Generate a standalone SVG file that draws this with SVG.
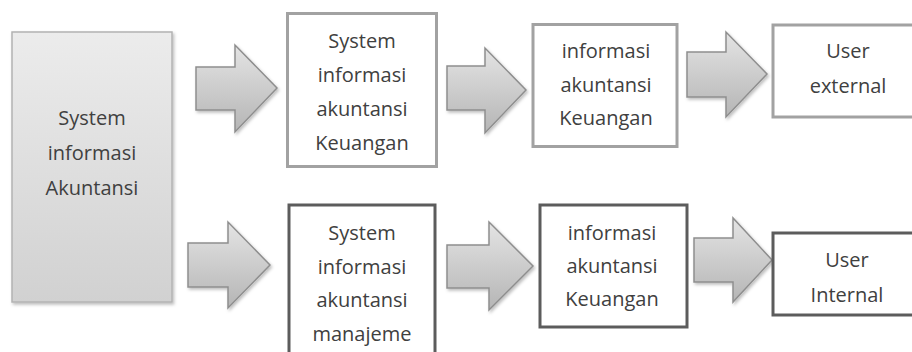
<svg xmlns="http://www.w3.org/2000/svg" width="912" height="352" viewBox="0 0 912 352">
<defs>
<linearGradient id="gBig" x1="0" y1="0" x2="0" y2="1">
<stop offset="0" stop-color="#ececec"/>
<stop offset="1" stop-color="#d1d1d1"/>
</linearGradient>
<linearGradient id="gArr" x1="0" y1="0" x2="0" y2="1">
<stop offset="0" stop-color="#e4e4e4"/>
<stop offset="1" stop-color="#b5b5b5"/>
</linearGradient>
<filter id="sh" x="-10%" y="-10%" width="130%" height="130%">
<feDropShadow dx="1.5" dy="2" stdDeviation="1.5" flood-color="#000" flood-opacity="0.25"/>
</filter>
</defs>
<style>
text{font-family:"Open Sans","Liberation Sans",sans-serif;font-size:20px;fill:#404040;text-anchor:middle}
.light{fill:#fff;stroke:#a2a2a2;stroke-width:3}
.dark{fill:#fff;stroke:#5c5c5c;stroke-width:3}
.big{fill:url(#gBig);stroke:#b3b3b3;stroke-width:1.5;filter:url(#sh)}
.arr{fill:url(#gArr);stroke:#8e8e8e;stroke-width:1.5;stroke-linejoin:miter;filter:url(#sh)}
</style>
<rect width="912" height="352" fill="#fff"/>
<g id="connectors">
<polygon class="arr" points="196,67 235,67 235,45 277,88 235,132 235,110 196,110"/>
<polygon class="arr" points="188,243 228,243 228,222 270,265 228,308 228,287 188,287"/>
<polygon class="arr" points="447,66 485,66 485,48 526,90 485,133 485,110 447,110"/>
<polygon class="arr" points="447,245 489,245 489,222 533,266 489,310 489,288 447,288"/>
<polygon class="arr" points="687,52 726,52 726,32 767,74 726,117 726,97 687,97"/>
<polygon class="arr" points="694,238 733,238 733,218 772,260 733,302 733,282 694,282"/>
</g>
<g id="sia">
<rect class="big" x="12" y="32" width="160" height="270"/>
<text x="92" y="125">System</text>
<text x="92" y="160">informasi</text>
<text x="92" y="195">Akuntansi</text>
</g>
<g id="siak">
<rect class="light" x="287.5" y="13.5" width="149" height="153"/>
<text x="362" y="48">System</text>
<text x="362" y="82">informasi</text>
<text x="362" y="116">akuntansi</text>
<text x="362" y="150">Keuangan</text>
</g>
<g id="iak-top">
<rect class="light" x="533" y="24.5" width="144" height="122"/>
<text x="606" y="58">informasi</text>
<text x="606" y="92">akuntansi</text>
<text x="606" y="125">Keuangan</text>
</g>
<g id="user-external">
<rect class="light" x="773" y="25" width="160" height="92"/>
<text x="848" y="58">User</text>
<text x="848" y="93">external</text>
</g>
<g id="siam">
<rect class="dark" x="289" y="205" width="146" height="165"/>
<text x="362" y="240">System</text>
<text x="362" y="274">informasi</text>
<text x="362" y="307">akuntansi</text>
<text x="362" y="341">manajeme</text>
</g>
<g id="iak-bottom">
<rect class="dark" x="540" y="205" width="147" height="122"/>
<text x="612" y="240">informasi</text>
<text x="612" y="273">akuntansi</text>
<text x="612" y="306">Keuangan</text>
</g>
<g id="user-internal">
<rect class="dark" x="773" y="233" width="160" height="82"/>
<text x="847" y="267">User</text>
<text x="847" y="302">Internal</text>
</g>
</svg>
